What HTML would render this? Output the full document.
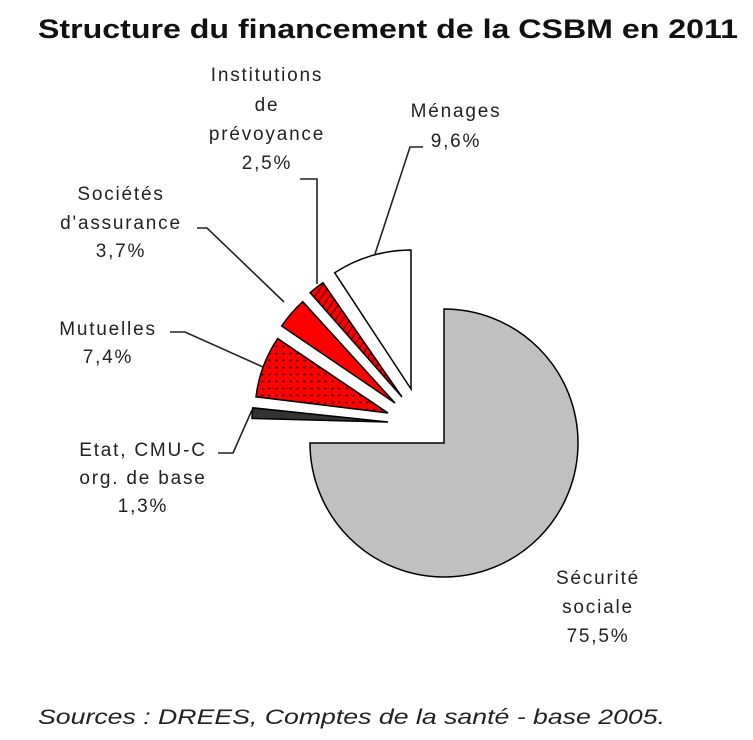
<!DOCTYPE html>
<html><head><meta charset="utf-8"><style>
body{margin:0;background:#fff;width:753px;height:740px;overflow:hidden}
svg{display:block}
text{font-family:"Liberation Sans",sans-serif;font-size:19px;letter-spacing:1.8px;fill:#222}
</style></head><body>
<svg id="s" width="753" height="740" xmlns="http://www.w3.org/2000/svg">
<defs>
<pattern id="dots" width="7" height="7" patternUnits="userSpaceOnUse">
<rect width="7" height="7" fill="#ff0000"/><circle cx="3.5" cy="3.5" r="1" fill="#000"/>
</pattern>
<pattern id="stripes" width="6" height="6" patternUnits="userSpaceOnUse" patternTransform="rotate(-56)">
<rect width="6" height="6" fill="#ff0000"/><rect width="6" height="1.6" fill="#700"/>
</pattern>
</defs>
<text x="38" y="38" textLength="700" lengthAdjust="spacingAndGlyphs" style="font-size:27px;font-weight:bold;fill:#111;letter-spacing:0">Structure du financement de la CSBM en 2011</text>
<g id="pie" stroke="#000" stroke-width="1.5"></g>
<g fill="none" stroke="#222" stroke-width="1.6">
<polyline points="423,147 410,147 375,254"/>
<polyline points="300,179 317,179 317,284"/>
<polyline points="197,228 207,228 284,302"/>
<polyline points="170,332 185,332 263,367"/>
<polyline points="218,453 233,453 252,410"/>
</g>
<text x="267" y="81" text-anchor="middle">Institutions</text>
<text x="267" y="111" text-anchor="middle">de</text>
<text x="267" y="140" text-anchor="middle">prévoyance</text>
<text x="267" y="169" text-anchor="middle">2,5%</text>
<text x="456" y="117" text-anchor="middle">Ménages</text>
<text x="456" y="147" text-anchor="middle">9,6%</text>
<text x="121" y="200" text-anchor="middle">Sociétés</text>
<text x="121" y="229" text-anchor="middle">d'assurance</text>
<text x="121" y="257" text-anchor="middle">3,7%</text>
<text x="108" y="335" text-anchor="middle">Mutuelles</text>
<text x="108" y="363" text-anchor="middle">7,4%</text>
<text x="143" y="456" text-anchor="middle">Etat, CMU-C</text>
<text x="143" y="484" text-anchor="middle">org. de base</text>
<text x="143" y="512" text-anchor="middle">1,3%</text>
<text x="598" y="584" text-anchor="middle">Sécurité</text>
<text x="598" y="613" text-anchor="middle">sociale</text>
<text x="598" y="642" text-anchor="middle">75,5%</text>
<text x="38" y="724" textLength="627" lengthAdjust="spacingAndGlyphs" style="font-size:21px;font-style:italic;letter-spacing:0">Sources : DREES, Comptes de la santé - base 2005.</text>
</svg>
<script>
function pt(cx,cy,r,a){a=a*Math.PI/180;return [cx-r*Math.sin(a),cy-r*Math.cos(a)];}
function slice(cx,cy,r,a1,a2,fill,big){
 var p1=pt(cx,cy,r,a1),p2=pt(cx,cy,r,a2);
 return '<path d="M'+cx+','+cy+' L'+p1[0].toFixed(1)+','+p1[1].toFixed(1)+' A'+r+','+r+' 0 '+(big?1:0)+' 0 '+p2[0].toFixed(1)+','+p2[1].toFixed(1)+' Z" fill="'+fill+'"/>';
}
var h='';
h+='<path d="M444,443 L444,309 A134,134 0 1 1 310,443 Z" fill="#c0c0c0" stroke="#000" stroke-width="1.5"/>';
h+=slice(411,389,139,0,33.3,'#fff');
h+=slice(402,397,139,34.7,41.4,'url(#stripes)');
h+=slice(395,403,137,42.3,55.8,'#ff0000');
h+=slice(388,413,133,56,83,'url(#dots)');
h+=slice(388,422,136,84,88.5,'#333');
document.getElementById('pie').innerHTML=h;
</script>
</body></html>
